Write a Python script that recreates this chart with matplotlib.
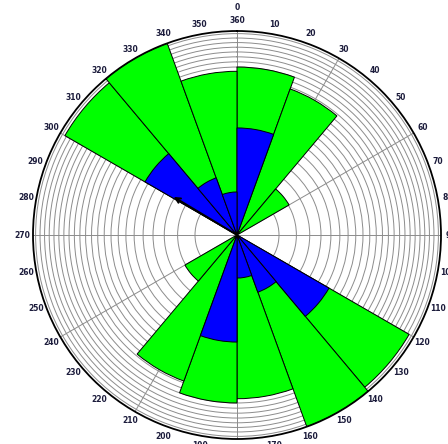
import numpy as np
import matplotlib
matplotlib.use("Agg")
import matplotlib.pyplot as plt

# axial data: 20 degree bins from 0 to 180, mirrored to 180-360
bin_edges = [0, 20, 40, 60, 80, 100, 120, 140, 160]
green_vals = [16.0, 13.7, 2.05, 0, 0, 0, 22.4, 23.6, 15.2]
blue_vals = [6.5, 0, 0, 0, 0, 0, 6.4, 2.1, 1.05]
mean_dir = 301
mean_len = 3.1
r_max = 23.6
rings = list(range(1, 24))
tick_angles = list(range(0, 360, 10))
grid_angles = list(range(0, 360, 30))

bin_w = 20
left = np.array(bin_edges + [e + 180 for e in bin_edges])
green = np.array(green_vals + green_vals)
blue = np.array(blue_vals + blue_vals)
theta = np.deg2rad(left + bin_w / 2)

fig = plt.figure(figsize=(4.48, 4.44), dpi=100)
ax = fig.add_axes([33 / 448, 5 / 444, 408 / 448, 408 / 444], projection='polar')
ax.set_theta_zero_location('N')
ax.set_theta_direction(-1)
# equal-area rose: radius grows with the square root of the value
ax.set_rscale('function', functions=(lambda r: np.sqrt(np.maximum(r, 0)), lambda r: r ** 2))
ax.set_ylim(0, r_max)

ax.bar(theta, green, width=np.deg2rad(bin_w), bottom=0, color='#00ff00',
       edgecolor='black', linewidth=0.7, zorder=2)
ax.bar(theta, blue, width=np.deg2rad(bin_w), bottom=0, color='#0000ff',
       edgecolor='black', linewidth=0.7, zorder=3)

ax.annotate('', xy=(np.deg2rad(mean_dir), mean_len), xytext=(0, 0),
            arrowprops=dict(arrowstyle='->', color='black', lw=1.4,
                            mutation_scale=9, shrinkA=0, shrinkB=0),
            zorder=4)

ax.set_axisbelow(True)
ax.set_yticks(rings)
ax.set_yticklabels([])
ax.yaxis.grid(True, color='#8c8c8c', linewidth=0.7)
ax.tick_params(axis='y', length=0)

ax.set_xticks(np.deg2rad(tick_angles))
ax.set_xticklabels([])
ax.xaxis.grid(False)
ax.tick_params(axis='x', direction='out', length=4, width=0.8, color='black')
for a in grid_angles:
    ax.plot([np.deg2rad(a)] * 2, [0, r_max], color='#8c8c8c', linewidth=0.7, zorder=0.8)

ax.spines['polar'].set_linewidth(1.3)

for a in tick_angles:
    f = 1.05
    x = 0.5 + 0.5 * f * np.sin(np.deg2rad(a))
    y = 0.5 + 0.5 * f * np.cos(np.deg2rad(a))
    lab = '360' if a == 0 else str(a)
    ax.text(x, y, lab, transform=ax.transAxes, ha='center', va='center',
            fontsize=5.5, fontweight='bold', color='#1c1c3c', clip_on=False)
ax.text(0.5, 0.5 + 0.5 * 1.113, '0', transform=ax.transAxes, ha='center',
        va='center', fontsize=5.5, fontweight='bold', color='#1c1c3c', clip_on=False)

fig.savefig('out.png', dpi=100)
